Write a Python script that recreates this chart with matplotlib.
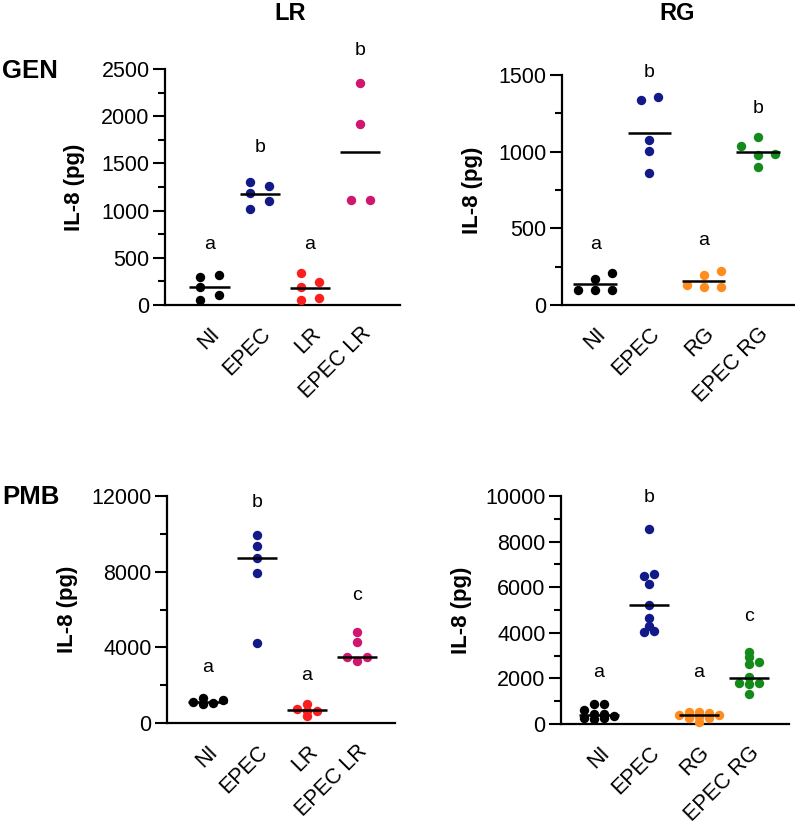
import numpy as np
import matplotlib
matplotlib.use("Agg")
import matplotlib.pyplot as plt
from matplotlib.ticker import MultipleLocator

plt.rcParams['font.family'] = ['Liberation Sans', 'DejaVu Sans']

# groups
lr_groups = ['NI', 'EPEC', 'LR', 'EPEC LR']
rg_groups = ['NI', 'EPEC', 'RG', 'EPEC RG']

# GEN - LR
gen_lr = [[293, 314, 187, 102, 53],
          [1306, 1261, 1190, 1102, 1013],
          [342, 247, 187, 78, 53],
          [2355, 1914, 1112, 1112]]
gen_lr_center = [194, 1176, 184, 1624]
gen_lr_letters = ['a', 'b', 'a', 'b']
gen_lr_letter_y = [590, 1620, 590, 2650]

# GEN - RG
gen_rg = [[211, 172, 98, 98, 98],
          [1354, 1334, 1073, 1006, 864],
          [224, 194, 131, 115, 115],
          [1095, 1034, 986, 977, 903]]
gen_rg_center = [137, 1125, 157, 997]
gen_rg_letters = ['a', 'b', 'a', 'b']
gen_rg_letter_y = [365, 1490, 390, 1255]

# PMB - LR
pmb_lr = [[1054, 1318, 1086, 1191, 1017],
          [9962, 9365, 8732, 7942, 4252],
          [1017, 348, 738, 648, 648],
          [4797, 4270, 3286, 3479, 3479]]
pmb_lr_center = [1090, 8700, 670, 3510]
pmb_lr_letters = ['a', 'b', 'a', 'c']
pmb_lr_letter_y = [2680, 11400, 2270, 6500]

# PMB - RG
pmb_rg = [[250, 614, 439, 351, 877, 877, 439, 206, 250],
          [8553, 6505, 6579, 6140, 5219, 4662, 4298, 4048, 4092],
          [395, 541, 541, 468, 395, 101, 250, 250, 320],
          [2952, 3145, 2706, 2632, 2075, 1811, 1811, 1741, 1316]]
pmb_rg_center = [395, 5220, 408, 2004]
pmb_rg_letters = ['a', 'b', 'a', 'c']
pmb_rg_letter_y = [2070, 9740, 2070, 4520]

lr_colors = ['black', '#121a8a', '#fb1e1e', '#d0166f']
rg_colors = ['black', '#121a8a', '#ff8c1e', '#138a1a']

W, H = 795, 824
fig = plt.figure(figsize=(W / 100, H / 100), dpi=100)


def swarm(vals, yppu, step, dx_min, dy_min):
    # simple beeswarm in pixel space, points on a grid of `step` px
    y = np.asarray(vals, dtype=float) * yppu
    order = np.argsort(y, kind='stable')
    xs = np.zeros(len(y))
    placed = []
    ks = [0]
    for k in range(1, 20):
        ks += [k, -k]
    for i in order:
        for k in ks:
            x = k * step
            ok = True
            for px, py in placed:
                if abs(x - px) < dx_min - 1e-6 and abs(y[i] - py) < dy_min:
                    ok = False
                    break
            if ok:
                break
        xs[i] = x
        placed.append((x, y[i]))
    iso = np.array([all(abs(y[i] - y[j]) >= dy_min for j in range(len(y)) if j != i)
                    for i in range(len(y))])
    if (~iso).any():
        xs = xs - (xs[~iso].min() + xs[~iso].max()) / 2
    xs[iso] = 0
    return xs


def panel(rect_px, xlim, ymax, major, minor, groups, data, centers, letters,
          letter_y, colors, spread, lab_x):
    l, t, r, b = rect_px
    ax = fig.add_axes([l / W, 1 - b / H, (r - l) / W, (b - t) / H])
    ax.set_xlim(*xlim)
    ax.set_ylim(0, ymax)
    xppu = (r - l) / (xlim[1] - xlim[0])
    yppu = (b - t) / ymax
    for i, vals in enumerate(data):
        off = swarm(vals, yppu, *spread) / xppu
        ax.scatter(i + off, vals, s=46, color=colors[i], linewidths=0,
                   zorder=3, clip_on=False)
        ax.plot([i - 0.4, i + 0.4], [centers[i]] * 2, color='black', lw=1.8,
                solid_capstyle='butt', zorder=4)
        ax.text(i, letter_y[i], letters[i], ha='center', va='baseline',
                fontsize=14, clip_on=False)
    for s in ['top', 'right']:
        ax.spines[s].set_visible(False)
    for s in ['left', 'bottom']:
        ax.spines[s].set_linewidth(1.6)
    ax.yaxis.set_major_locator(MultipleLocator(major))
    ax.yaxis.set_minor_locator(MultipleLocator(minor))
    ax.tick_params(axis='y', which='major', length=9, width=1.5, labelsize=15.5, pad=2)
    ax.tick_params(axis='y', which='minor', length=5, width=1.5)
    ax.tick_params(axis='x', length=0, pad=13, labelsize=15.5)
    ax.set_xticks(range(len(groups)))
    ax.set_xticklabels(groups, rotation=45, ha='right', va='top',
                       rotation_mode='anchor')
    ax.set_ylabel('IL-8 (pg)', fontsize=16, fontweight='bold')
    ax.yaxis.set_label_coords(lab_x, 0.5)
    return ax


panel((165, 69, 400, 305), (-0.885, 3.79), 2500, 500, 250, lr_groups, gen_lr,
      gen_lr_center, gen_lr_letters, gen_lr_letter_y, lr_colors,
      (9.3, 18.6, 9.5), -0.34)
panel((562, 75, 795, 305), (-0.61, 3.68), 1500, 500, 250, rg_groups, gen_rg,
      gen_rg_center, gen_rg_letters, gen_rg_letter_y, rg_colors,
      (8.6, 17.2, 9.5), -0.339)
panel((167, 496, 395, 723), (-0.815, 3.77), 12000, 4000, 2000, lr_groups, pmb_lr,
      pmb_lr_center, pmb_lr_letters, pmb_lr_letter_y, lr_colors,
      (5, 9.5, 5), -0.39)
panel((561, 496, 789, 724), (-0.76, 3.81), 10000, 2000, 1000, rg_groups, pmb_rg,
      pmb_rg_center, pmb_rg_letters, pmb_rg_letter_y, rg_colors,
      (5, 10, 4), -0.39)

fig.text(289.7 / W, 1 - 13.3 / H, 'LR', ha='center', va='center',
         fontsize=17, fontweight='bold')
fig.text(676.7 / W, 1 - 13.3 / H, 'RG', ha='center', va='center',
         fontsize=17, fontweight='bold')
fig.text(2 / W, 1 - 71 / H, 'GEN', ha='left', va='center',
         fontsize=18.5, fontweight='bold')
fig.text(2 / W, 1 - 497.5 / H, 'PMB', ha='left', va='center',
         fontsize=18.5, fontweight='bold')

fig.savefig('out.png', dpi=100)
